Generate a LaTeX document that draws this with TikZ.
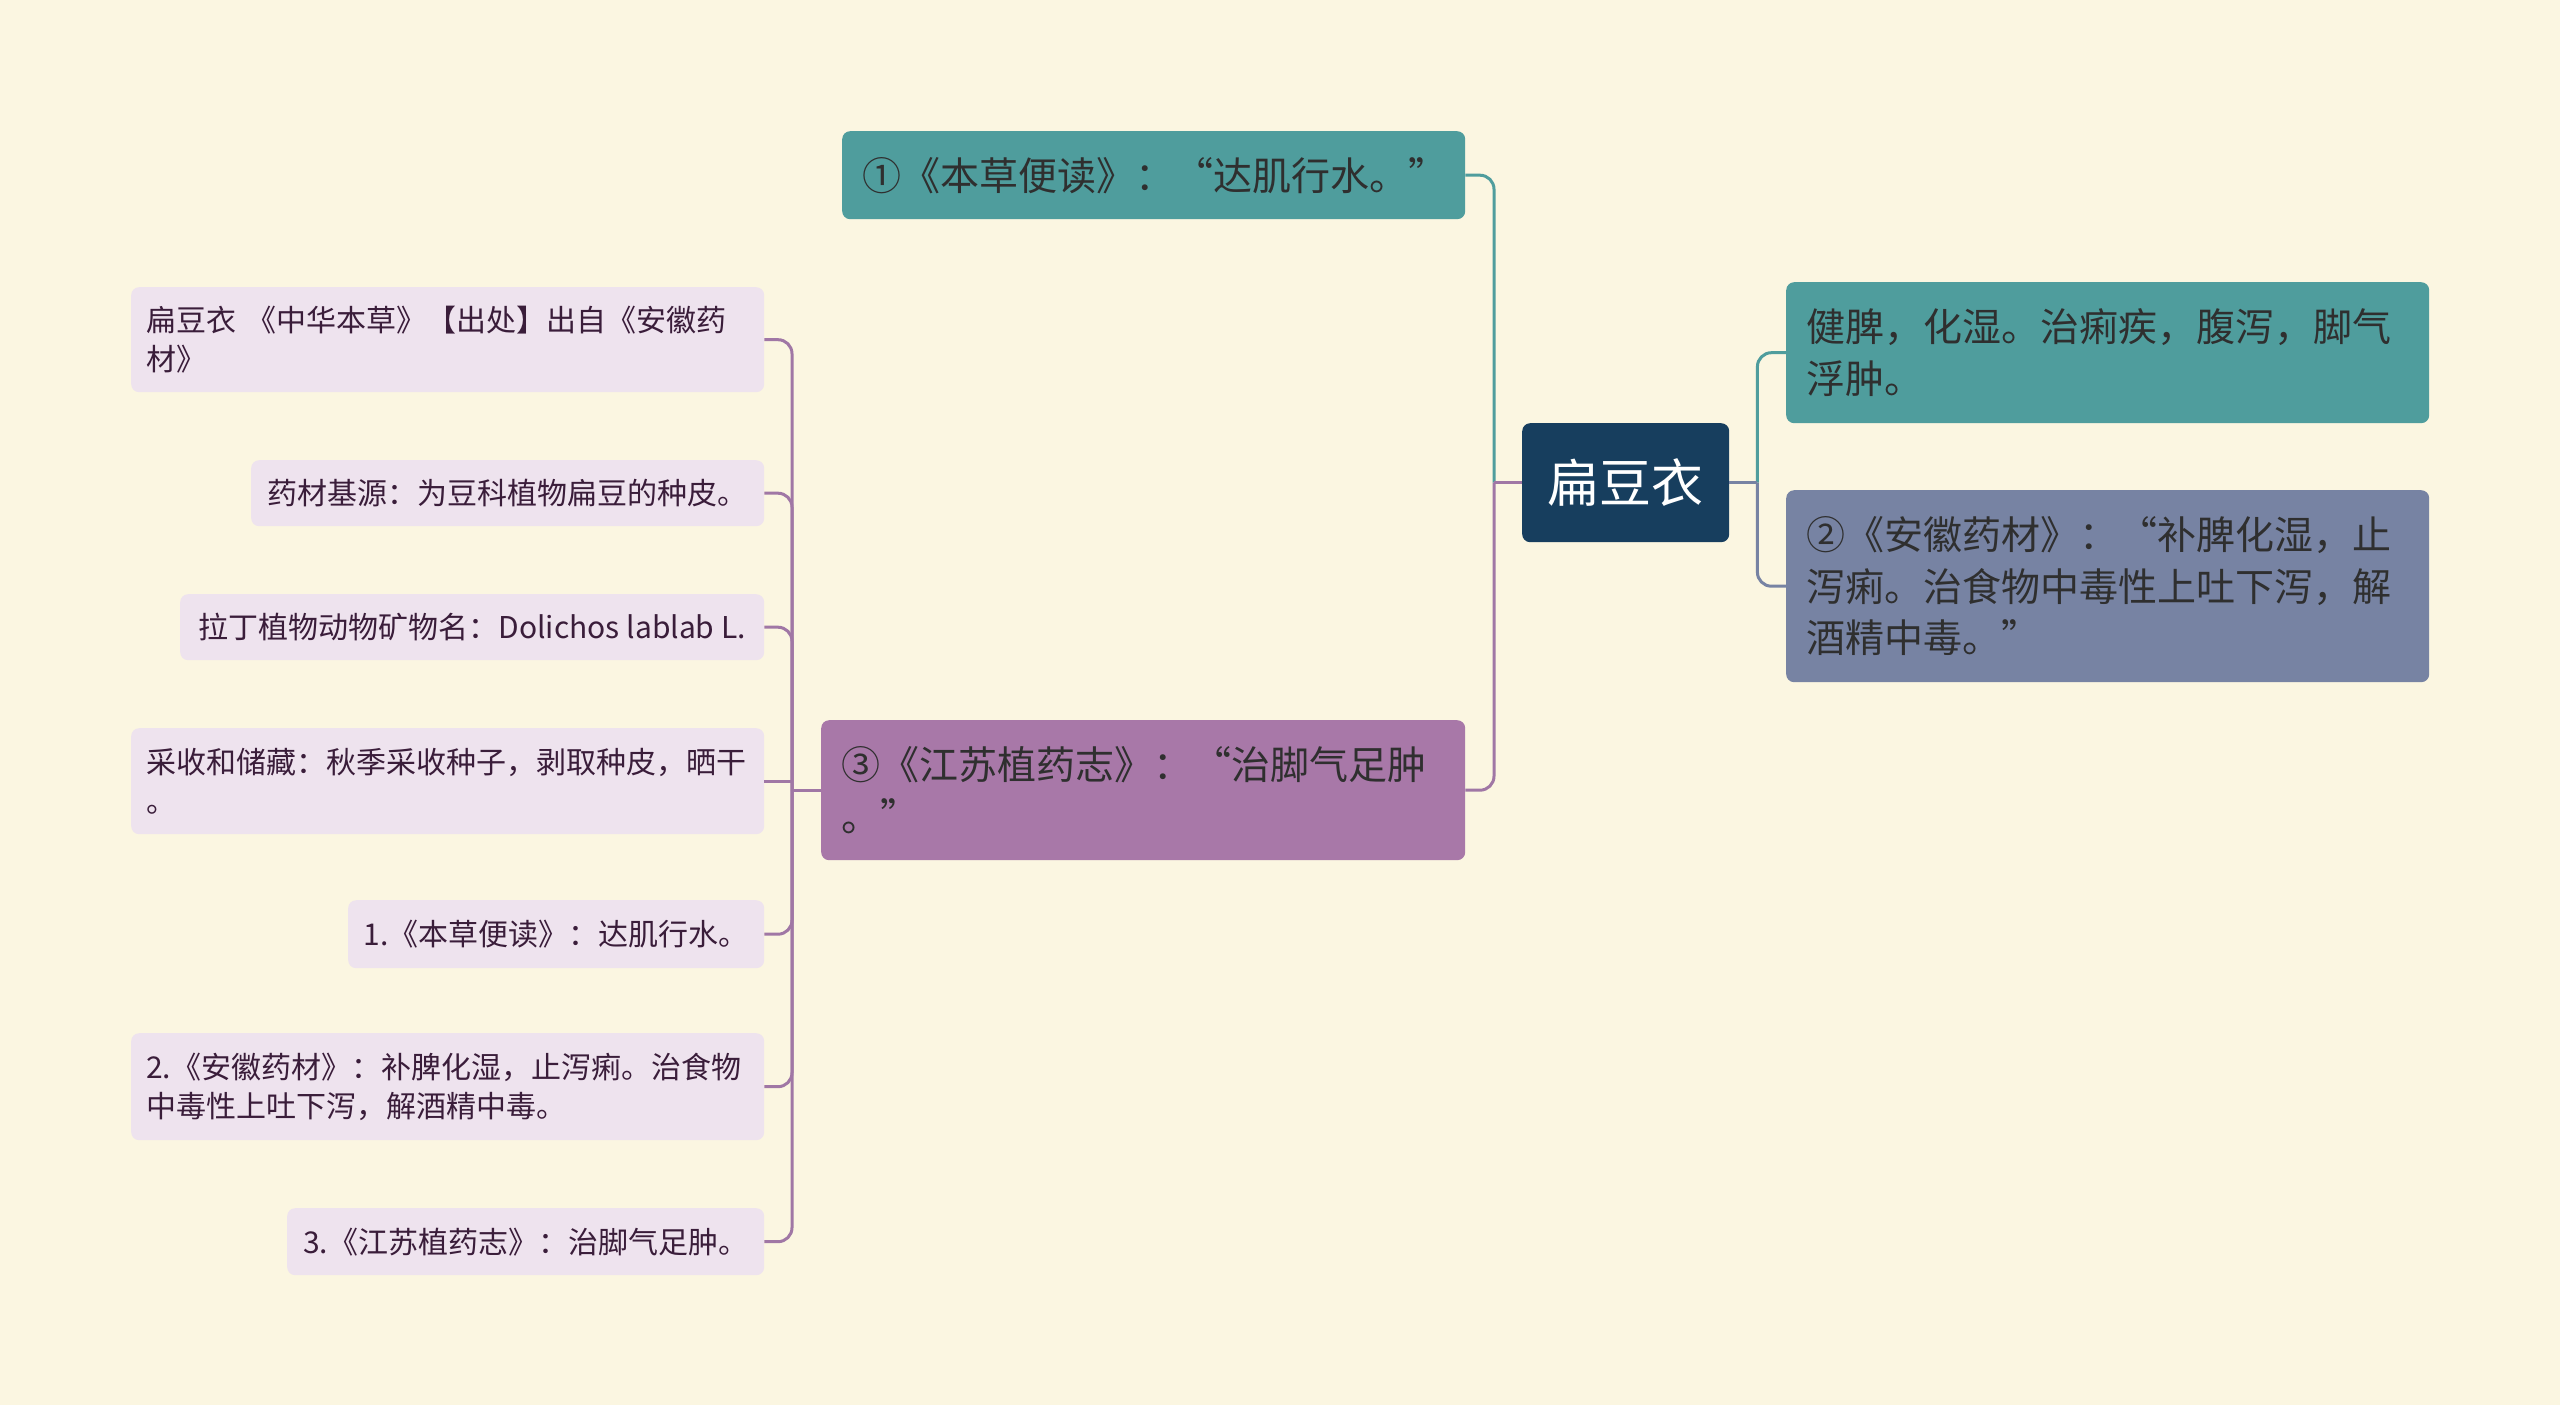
\documentclass[tikz,border=0pt]{standalone}
\usepackage{fontspec}
\setmainfont{Noto Sans CJK SC}
\definecolor{bgc}{HTML}{FBF6E1}
\definecolor{tealc}{HTML}{4F9D9D}
\definecolor{rootc}{HTML}{173E5E}
\definecolor{slatec}{HTML}{7783A3}
\definecolor{purpc}{HTML}{A878A8}
\definecolor{leafc}{HTML}{EEE3EE}
\definecolor{leaftext}{HTML}{3A1D3A}
\definecolor{darktext}{HTML}{2F2F2F}
\definecolor{purpline}{HTML}{A077A5}
\begin{document}
\begin{tikzpicture}[x=1pt,y=-1pt,
  box/.style={rounded corners=8pt, anchor=north west, inner ysep=0pt},
  rootbox/.style={box, fill=rootc, text=white, inner xsep=0pt, font=\fontsize{52pt}{62pt}\selectfont},
  bigbox/.style={box, inner xsep=20pt, text=darktext, align=left, font=\fontsize{39pt}{51.5pt}\selectfont},
  leafbox/.style={box, fill=leafc, text=leaftext, inner xsep=15pt, font=\fontsize{30pt}{39pt}\selectfont},
  conn/.style={line width=3pt, rounded corners=14pt},
  tline/.style={conn, draw=tealc},
  pline/.style={conn, draw=purpline},
  sline/.style={conn, draw=slatec}]
\fill[bgc] (0,0) rectangle (2560,1405);
\useasboundingbox (0,0) rectangle (2560,1405);

% nodes
\node[rootbox, minimum width=207pt, minimum height=119pt] (root) at (1522,423) {扁豆衣};
\node[bigbox, fill=tealc, text width=583pt, minimum height=88pt] (n1) at (842,131) {①《本草便读》：“达肌行水。”};
\node[bigbox, fill=tealc, text width=603pt, minimum height=141pt] (r1) at (1786,282) {健脾，化湿。治痢疾，腹泻，脚气\\浮肿。};
\node[bigbox, fill=slatec, text width=603pt, minimum height=192pt] (n2) at (1786,490) {②《安徽药材》：“补脾化湿，止\\泻痢。治食物中毒性上吐下泻，解\\酒精中毒。”};
\node[bigbox, fill=purpc, text width=604pt, minimum height=140pt] (n3) at (821,720) {③《江苏植药志》：“治脚气足肿\\。”};

\node[leafbox, align=left, text width=603pt, minimum height=105pt] (l1) at (131,287) {扁豆衣 《中华本草》【出处】出自《安徽药\\材》};
\node[leafbox, minimum width=513pt, minimum height=66pt] (l2) at (251,460) {药材基源：为豆科植物扁豆的种皮。};
\node[leafbox, minimum width=584pt, minimum height=66pt] (l3) at (180,594) {拉丁植物动物矿物名：Dolichos lablab L.};
\node[leafbox, align=left, text width=603pt, minimum height=106pt] (l4) at (131,728) {采收和储藏：秋季采收种子，剥取种皮，晒干\\。};
\node[leafbox, minimum width=416pt, minimum height=68pt] (l5) at (348,900) {1.《本草便读》：达肌行水。};
\node[leafbox, align=left, text width=603pt, minimum height=107pt] (l6) at (131,1033) {2.《安徽药材》：补脾化湿，止泻痢。治食物\\中毒性上吐下泻，解酒精中毒。};
\node[leafbox, minimum width=477pt, minimum height=67pt] (l7) at (287,1208) {3.《江苏植药志》：治脚气足肿。};

% junction points
\coordinate (jl) at ([xshift=-28pt]root.west);
\coordinate (jr) at ([xshift=28pt]root.east);
\coordinate (jt) at ([xshift=-29pt]n3.west);

% connectors
\draw[tline] (n1.east) -| (jl);
\draw[pline] (n3.east) -| (jl);
\draw[pline] (root.west) -- (jl);
\draw[tline] (r1.west) -| (jr);
\draw[sline] (n2.west) -| (jr);
\draw[sline] (root.east) -- (jr);
\foreach \l in {l1,l2,l3,l5,l6,l7}{
  \draw[pline] (\l.east) -| (jt);
}
\draw[pline] (l4.east) -- (l4.east -| jt);
\draw[pline] (n3.west) -- (jt);
\end{tikzpicture}
\end{document}
